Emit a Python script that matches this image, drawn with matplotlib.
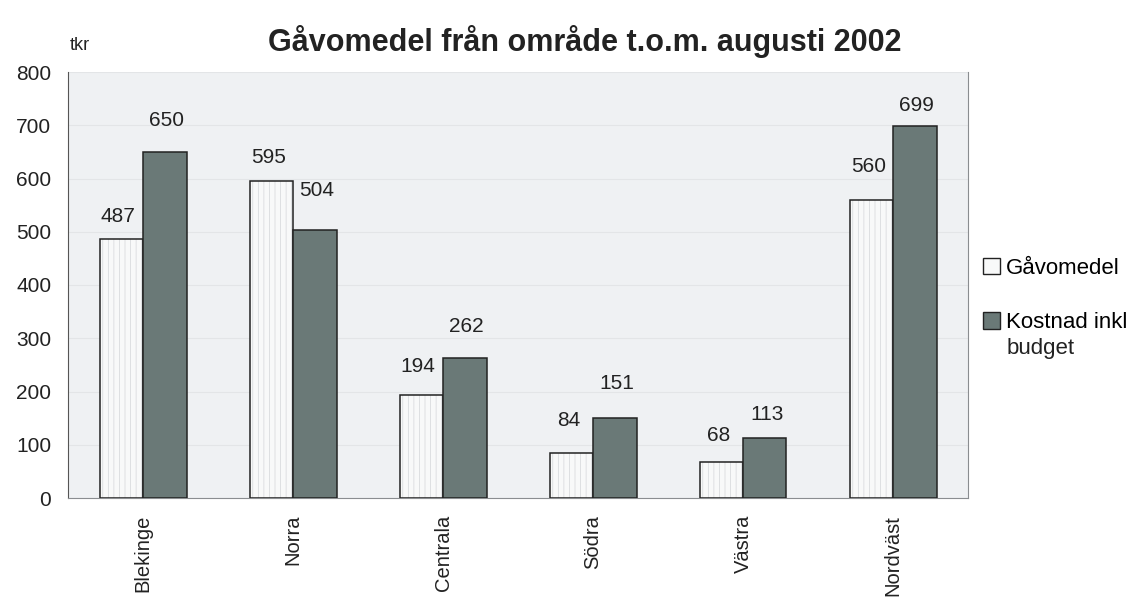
import matplotlib
matplotlib.use("Agg")
import matplotlib.pyplot as plt
from matplotlib.patches import Patch
import numpy as np

categories = ["Blekinge", "Norra", "Centrala", "Södra", "Västra", "Nordväst"]
gavomedel = [487, 595, 194, 84, 68, 560]
kostnad = [650, 504, 262, 151, 113, 699]
yticks = [0, 100, 200, 300, 400, 500, 600, 700, 800]

# label placement (layout only, in pixels above bar top)
gav_lbl_off = [22, 24, 28, 33, 26, 33]
kos_lbl_off = [31, 39, 32, 34, 23, 20]

plt.rcParams['font.family'] = ['Liberation Sans', 'DejaVu Sans']
plt.rcParams['hatch.linewidth'] = 0.5

fig = plt.figure(figsize=(11.44, 6.03), dpi=100)
fig.patch.set_facecolor('white')
ax = fig.add_axes([68/1144, 1-498/603, 900/1144, 426/603])
ax.set_facecolor('#eff1f3')

x = np.arange(len(categories))
w = 0.29
# white bars with faint vertical hatching
ax.bar(x - w/2, gavomedel, w, color='#f8f9f9', edgecolor='#d3d6d9', linewidth=0,
       hatch='|||', zorder=3)
ax.bar(x - w/2, gavomedel, w, fill=False, edgecolor='#222222', linewidth=1.1, zorder=4)
ax.bar(x + w/2, kostnad, w, color='#6a7977', edgecolor='#222222', linewidth=1.1, zorder=4)

pt = 72 / 100
for xi, v, o in zip(x - w/2, gavomedel, gav_lbl_off):
    ax.annotate(str(v), (xi, v), xytext=(-3 * pt, o * pt), textcoords='offset points',
                ha='center', va='center', fontsize=15, color='#222222')
for xi, v, o in zip(x + w/2, kostnad, kos_lbl_off):
    ax.annotate(str(v), (xi, v), xytext=(2 * pt, o * pt), textcoords='offset points',
                ha='center', va='center', fontsize=15, color='#222222')

ax.set_xlim(-0.5, len(categories) - 0.5)
ax.set_ylim(0, 800)
ax.set_yticks(yticks)
ax.set_yticklabels([str(t) for t in yticks], fontsize=15, color='#222222')
ax.set_xticks(x)
ax.set_xticklabels(categories, rotation=90, fontsize=14.5, color='#222222')
ax.tick_params(axis='x', length=0, pad=12)
ax.tick_params(axis='y', length=0, pad=12)
ax.grid(axis='y', color='#e3e5e7', linewidth=0.8, zorder=0)
ax.spines['top'].set_visible(False)
ax.spines['right'].set_color('#8a8d90')
ax.spines['left'].set_color('#555555')
ax.spines['bottom'].set_color('#8a8d90')

fig.text(585/1144, 1-42/603, "Gåvomedel från område t.o.m. augusti 2002", ha='center', va='center',
         fontsize=22, fontweight='bold', color='#222222')
fig.text(70/1144, 1-45/603, "tkr", ha='left', va='center', fontsize=13, color='#222222')

handles = [Patch(facecolor='#f8f9f9', edgecolor='#222222', linewidth=1.0),
           Patch(facecolor='#6a7977', edgecolor='#222222', linewidth=1.0)]
leg = fig.legend(handles, ['Gåvomedel', 'Kostnad inkl'], loc='upper left',
                 bbox_to_anchor=(983/1144, 1-258/603), frameon=False, fontsize=16,
                 handlelength=0.75, handleheight=0.75, handletextpad=0.3,
                 labelspacing=1.5, borderpad=0, borderaxespad=0)
fig.canvas.draw()
t2 = leg.get_texts()[1]
bb = t2.get_window_extent()
inv = fig.transFigure.inverted()
x0, y0 = inv.transform((bb.x0, bb.y0))
fig.text(x0, y0 - 5/603, "budget", ha='left', va='top', fontsize=16, color='#222222')

fig.savefig("out.png", dpi=100)
